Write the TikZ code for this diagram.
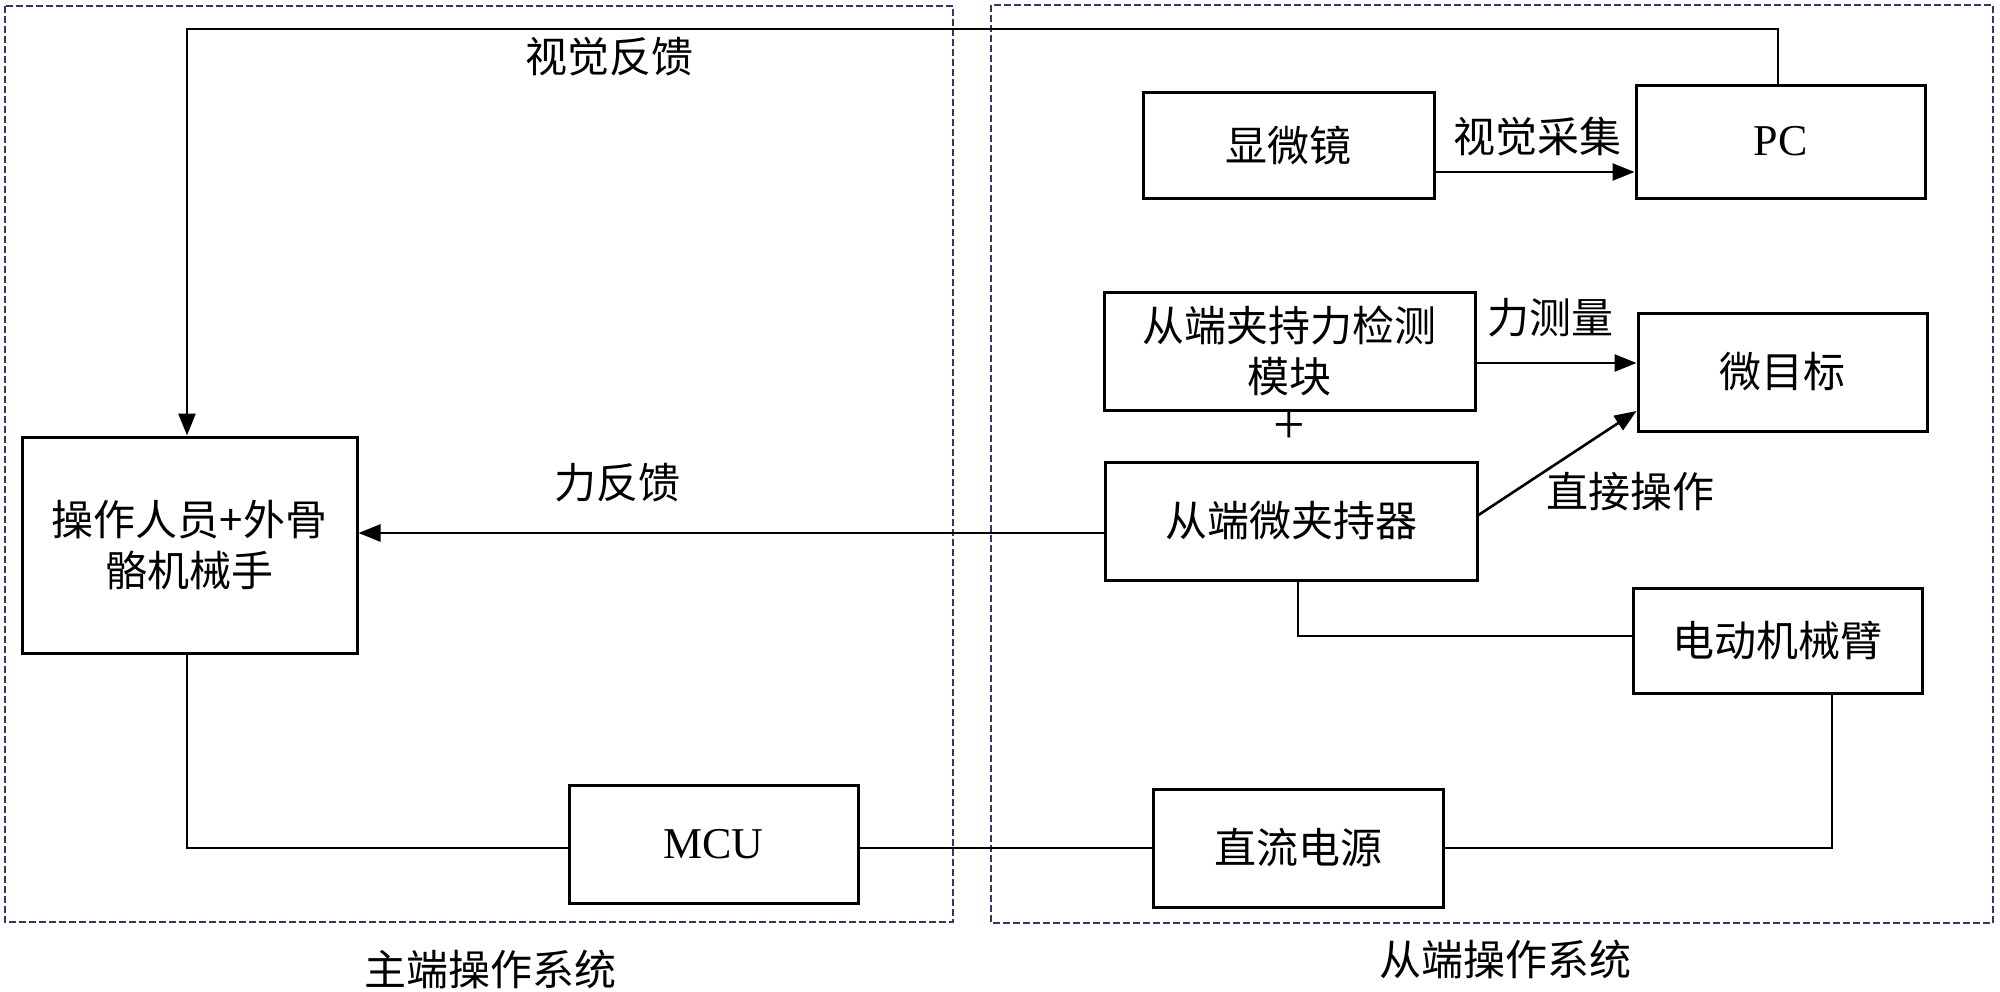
\documentclass[tikz,border=0pt]{standalone}
\usepackage{fontspec}
\setmainfont{Liberation Serif}
\newfontfamily\cjk{Noto Sans CJK SC}
\usetikzlibrary{arrows.meta}
\definecolor{navy}{HTML}{2E3B63}
\begin{document}
\begin{tikzpicture}[x=1pt,y=-1pt,
  blk/.style={draw=black,line width=3pt,minimum width=#1,inner sep=0pt,align=center,
    font=\cjk\fontsize{42}{51}\selectfont},
  lat/.style={font=\fontsize{44}{51}\selectfont},
  con/.style={line width=2.6pt},
  arr/.style={con,-{Triangle[length=22pt,width=17pt]}},
  lbl/.style={inner sep=0pt,font=\cjk\fontsize{42}{51}\selectfont},
  grp/.style={draw=navy,line width=2.5pt,dash pattern=on 7pt off 3pt}]
\useasboundingbox (0,0) rectangle (2000,991);
\fill[white] (0,0) rectangle (2000,991);
% group frames
\draw[grp] (5,6) rectangle (953,922);
\draw[grp] (991,5) rectangle (1993,923);
% blocks
\node[blk=335pt,minimum height=216pt] (op) at (189.5,545) {操作人员+外骨\\骼机械手};
\node[blk=289pt,minimum height=118pt,lat] (mcu) at (713.5,844) {MCU};
\node[blk=291pt,minimum height=106pt] (mic) at (1288.5,145) {显微镜};
\node[blk=289pt,minimum height=113pt,lat] (pc) at (1780.5,141.5) {PC};
\node[blk=371pt,minimum height=118pt] (det) at (1289.5,351) {从端夹持力检测\\模块};
\node[blk=289pt,minimum height=118pt] (tgt) at (1782.5,372) {微目标};
\node[blk=372pt,minimum height=118pt] (grip) at (1291,521) {从端微夹持器};
\node[blk=289pt,minimum height=105pt] (arm) at (1777.5,640.5) {电动机械臂};
\node[blk=290pt,minimum height=118pt] (dc) at (1298,848) {直流电源};
% plus sign between detector and gripper
\node[inner sep=0pt,font=\fontsize{56}{56}\selectfont] (plus) at (1289,428) {+};
% connectors
\coordinate (vfR) at (1778,29);
\coordinate (vfL) at (187,29);
\draw[arr] (pc.north -| vfR) -- (vfR) -- (vfL) -- (op.north -| vfL);
\draw[arr] (mic.east |- 0,172) -- (pc.west |- 0,172);
\draw[arr] (det.east |- 0,363) -- (tgt.west |- 0,363);
\draw[arr] (grip.east |- 0,515) -- (tgt.west |- 0,411);
\draw[arr] (grip.west |- 0,533) -- (op.east |- 0,533);
\coordinate (g1) at (1298,636);
\draw[con] (grip.south -| g1) -- (g1) -- (arm.west |- g1);
\coordinate (a1) at (1832,848);
\draw[con] (arm.south -| a1) -- (a1) -- (dc.east |- a1);
\draw[con] (dc.west |- 0,848) -- (mcu.east |- 0,848);
\coordinate (m1) at (187,848);
\draw[con] (mcu.west |- m1) -- (m1) -- (op.south -| m1);
% labels
\node[lbl] (l1) at (609,57) {视觉反馈};
\node[lbl] (l2) at (1537,137) {视觉采集};
\node[lbl] (l3) at (1550,318) {力测量};
\node[lbl] (l4) at (1630,492) {直接操作};
\node[lbl] (l5) at (617,483) {力反馈};
\node[lbl] (l6) at (490,969) {主端操作系统};
\node[lbl] (l7) at (1505,959) {从端操作系统};
\end{tikzpicture}
\end{document}
